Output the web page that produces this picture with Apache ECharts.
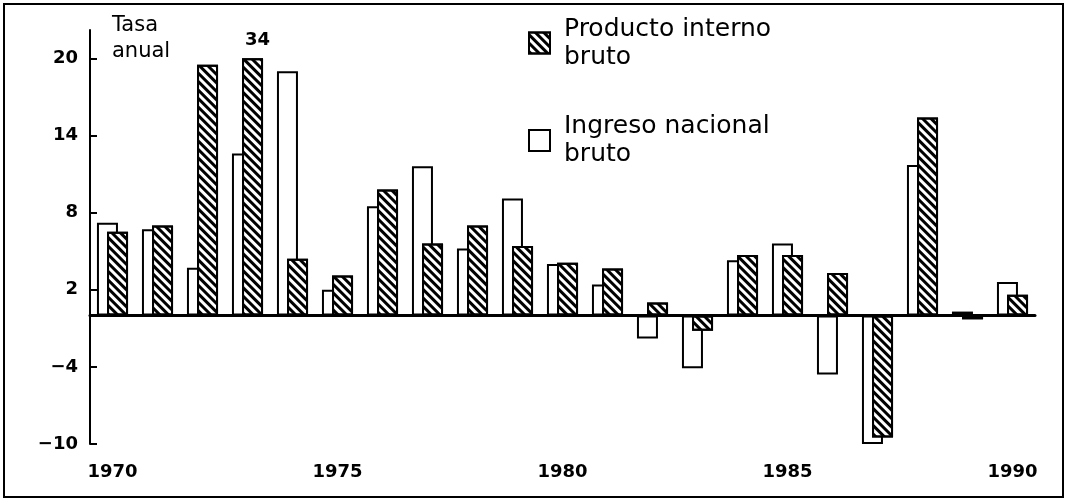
<!DOCTYPE html>
<html>
<head>
<meta charset="utf-8">
<script src="https://cdn.jsdelivr.net/npm/echarts@6/dist/echarts.min.js"></script>
<style>
  html, body { margin: 0; padding: 0; background: #fff; }
  #chart { width: 1066px; height: 499px; }
</style>
</head>
<body>
<div id="chart"></div>
<script>
const years = ['1970','1971','1972','1973','1974','1975','1976','1977','1978','1979','1980',
               '1981','1982','1983','1984','1985','1986','1987','1988','1989','1990'];
// Ingreso nacional bruto (white bars)
const inbValues = [7.2, 6.7, 3.7, 12.6, 19.0, 2.0, 8.5, 11.6, 5.2, 9.1, 4.0,
                   2.4, -1.8, -4.1, 4.3, 5.6, -4.6, -10.0, 11.7, 0.3, 2.6];
// Producto interno bruto (hatched bars); 1973 goes off the scale (34)
const pibValues = [6.5, 7.0, 19.5, 34, 4.4, 3.1, 9.8, 5.6, 7.0, 5.4, 4.1,
                   3.65, 1.0, -1.2, 4.7, 4.7, 3.3, -9.5, 15.4, -0.3, 1.6];
const pibCap = 20;
const yTicks = [-10, -4, 2, 8, 14, 20];
const yearLabels = ['1970', '1975', '1980', '1985', '1990'];

const font = 'DejaVu Sans';
const chart = echarts.init(document.getElementById('chart'));

const hatch = {
  symbol: 'rect',
  symbolSize: 1,
  color: '#000',
  dashArrayX: [1, 0],
  dashArrayY: [3, 3],
  rotation: Math.PI / 4
};

chart.setOption({
  backgroundColor: '#fff',
  animation: false,
  title: {
    text: 'Tasa\nanual',
    left: 112,
    top: 13,
    padding: 0,
    textStyle: { fontFamily: font, fontSize: 21, fontWeight: 'normal', lineHeight: 26, color: '#000' }
  },
  legend: {
    orient: 'vertical',
    left: 528,
    top: 1,
    padding: 0,
    itemWidth: 21,
    itemHeight: 21,
    itemGap: 13.5,
    selectedMode: false,
    icon: 'rect',
    data: ['Producto interno\nbruto', 'Ingreso nacional\nbruto'],
    itemStyle: { borderColor: '#000', borderWidth: 2 },
    textStyle: { fontFamily: font, fontSize: 25, lineHeight: 28, color: '#000', padding: [28, 0, 0, 9] }
  },
  grid: { left: 90, right: 31, top: 30, bottom: 55, containLabel: false },
  xAxis: [
    {
      type: 'category',
      data: years,
      axisLine: { onZero: true, lineStyle: { color: '#000', width: 3 } },
      axisTick: { inside: true, length: 6, lineStyle: { color: '#000', width: 2 } },
      axisLabel: { show: false },
      splitLine: { show: false }
    },
    {
      type: 'category',
      data: years,
      position: 'bottom',
      axisLine: { show: false, onZero: false },
      axisTick: { show: false },
      axisLabel: {
        interval: 0,
        margin: 19,
        fontFamily: font, fontSize: 18, fontWeight: 'bold', color: '#000',
        formatter: v => yearLabels.includes(v) ? v : ''
      }
    },
    {
      type: 'category',
      data: years,
      position: 'bottom',
      axisLine: { show: false, onZero: true },
      axisTick: { length: 7, lineStyle: { color: '#000', width: 2 } },
      axisLabel: { show: false }
    }
  ],
  yAxis: {
    type: 'value',
    min: -10,
    max: 22.2,
    axisLine: { show: true, lineStyle: { color: '#000', width: 2 } },
    axisTick: { show: true, inside: true, length: 7, customValues: yTicks, lineStyle: { color: '#000', width: 2 } },
    axisLabel: {
      customValues: yTicks,
      margin: 12,
      fontFamily: font, fontSize: 18, fontWeight: 'bold', color: '#000',
      formatter: v => v < 0 ? '\u2212' + Math.abs(v) : String(v)
    },
    splitLine: { show: false }
  },
  series: [
    {
      name: 'Ingreso nacional\nbruto',
      type: 'bar',
      xAxisIndex: 0,
      barWidth: 21,
      barGap: '-52%',
      data: inbValues,
      itemStyle: { color: '#fff', borderColor: '#000', borderWidth: 2 }
    },
    {
      name: 'Producto interno\nbruto',
      type: 'bar',
      xAxisIndex: 0,
      barWidth: 21,
      data: pibValues.map(v => v > pibCap
        ? { value: pibCap, label: { show: true, formatter: String(v) } }
        : v),
      label: {
        show: false,
        position: 'top',
        distance: 9,
        offset: [5, 0],
        fontFamily: font, fontSize: 18, fontWeight: 'bold', color: '#000'
      },
      itemStyle: { color: '#fff', borderColor: '#000', borderWidth: 2, decal: hatch }
    }
  ],
  graphic: [
    {
      type: 'rect',
      shape: { x: 4, y: 4, width: 1059, height: 493 },
      style: { fill: 'none', stroke: '#000', lineWidth: 2 },
      silent: true
    }
  ]
});
</script>
</body>
</html>
